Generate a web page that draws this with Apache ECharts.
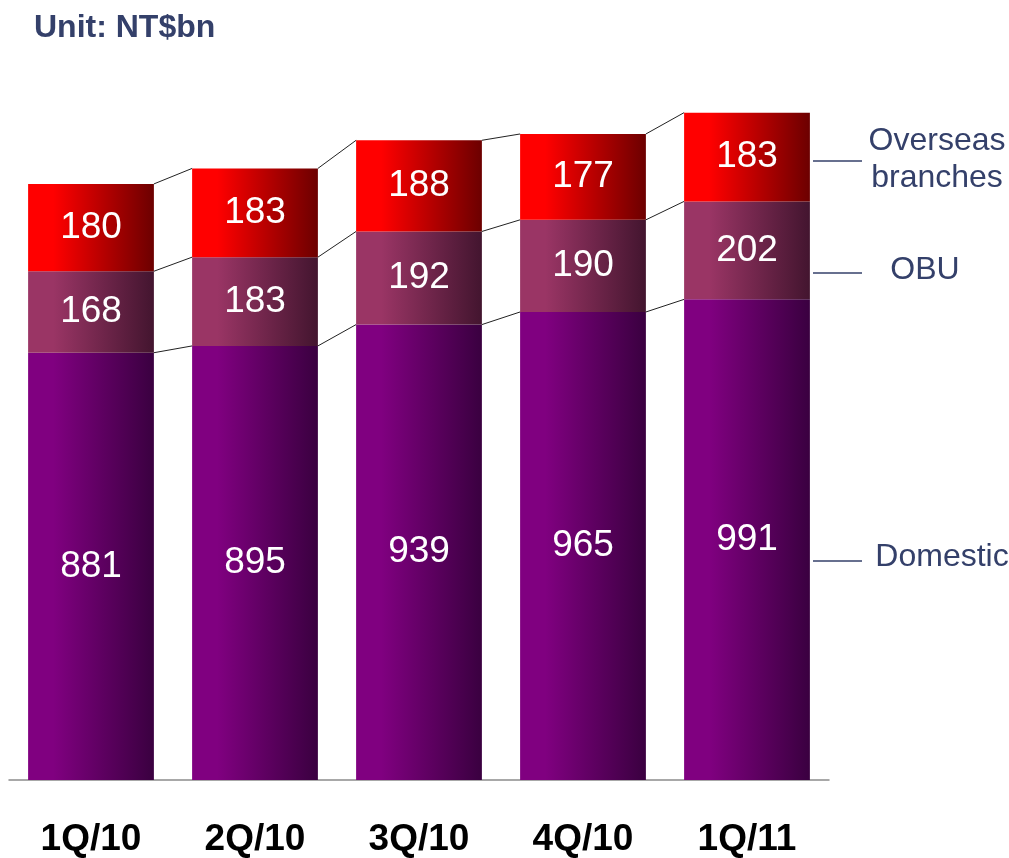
<!DOCTYPE html>
<html>
<head>
<meta charset="utf-8">
<script src="https://cdn.jsdelivr.net/npm/echarts@6/dist/echarts.min.js"></script>
<style>
html,body{margin:0;padding:0;background:#fff;}
#chart{width:1009px;height:858px;}
</style>
</head>
<body>
<div id="chart"></div>
<script>
const categories = ['1Q/10', '2Q/10', '3Q/10', '4Q/10', '1Q/11'];
const domestic = [881, 895, 939, 965, 991];
const obu = [168, 183, 192, 190, 202];
const overseas = [180, 183, 188, 177, 183];
const seriesNames = ['Domestic', 'OBU', 'Overseas branches'];

const FONT = '"Liberation Sans", Arial, Helvetica, sans-serif';
const NAVY = '#34406a';
const BAR_RATIO = 0.767;

function grad(c0, c1) {
  return new echarts.graphic.LinearGradient(0, 0, 1, 0, [
    { offset: 0, color: c0 },
    { offset: 0.2, color: c0 },
    { offset: 1, color: c1 }
  ]);
}

const stacks = [domestic, obu, overseas];
const cum = categories.map((_, i) => {
  let s = 0;
  return stacks.map(arr => (s += arr[i]));
});

const valueLabel = {
  show: true,
  position: 'inside',
  color: '#ffffff',
  fontFamily: FONT,
  fontSize: 37
};

const chart = echarts.init(document.getElementById('chart'), null, { renderer: 'canvas' });

chart.setOption({
  animation: false,
  backgroundColor: '#ffffff',
  grid: { left: 9, right: 180, top: 101, bottom: 76, containLabel: false },
  xAxis: {
    type: 'category',
    data: categories,
    axisLine: { show: true, lineStyle: { color: '#8c8c8c', width: 1.5 } },
    axisTick: { show: false },
    axisLabel: {
      color: '#000000',
      fontFamily: FONT,
      fontWeight: 'bold',
      fontSize: 37,
      margin: 41
    }
  },
  yAxis: {
    type: 'value',
    min: 0,
    max: 1400,
    show: false,
    splitLine: { show: false }
  },
  series: [
    {
      name: seriesNames[0], type: 'bar', stack: 'total', barWidth: (BAR_RATIO * 100) + '%',
      data: domestic,
      itemStyle: { color: grad('#800080', '#3a0040') },
      label: valueLabel, z: 2
    },
    {
      name: seriesNames[1], type: 'bar', stack: 'total',
      data: obu,
      itemStyle: { color: grad('#9a3565', '#43152f') },
      label: valueLabel, z: 2
    },
    {
      name: seriesNames[2], type: 'bar', stack: 'total',
      data: overseas,
      itemStyle: { color: grad('#ff0000', '#6c0000') },
      label: valueLabel, z: 2
    },
    {
      type: 'custom',
      silent: true,
      z: 3,
      data: categories.slice(0, -1).map((_, i) => [i, cum[i][2]]),
      encode: { x: 0, y: 1 },
      renderItem: function (params, api) {
        const i = api.value(0);
        const bw = api.size([1, 0])[0] * BAR_RATIO;
        const children = [];
        for (let k = 0; k < 3; k++) {
          const p0 = api.coord([i, cum[i][k]]);
          const p1 = api.coord([i + 1, cum[i + 1][k]]);
          children.push({
            type: 'line',
            shape: { x1: p0[0] + bw / 2, y1: p0[1], x2: p1[0] - bw / 2, y2: p1[1] },
            style: { stroke: '#222222', lineWidth: 1 }
          });
        }
        return { type: 'group', children: children };
      }
    }
  ],
  graphic: [
    {
      type: 'text', left: 34, top: 12,
      style: { text: 'Unit: NT$bn', fill: NAVY, font: 'bold 32px ' + FONT }
    },
    { type: 'line', shape: { x1: 813, y1: 161, x2: 862, y2: 161 }, style: { stroke: NAVY, lineWidth: 1.5 } },
    { type: 'line', shape: { x1: 813, y1: 273, x2: 862, y2: 273 }, style: { stroke: NAVY, lineWidth: 1.5 } },
    { type: 'line', shape: { x1: 813, y1: 561, x2: 862, y2: 561 }, style: { stroke: NAVY, lineWidth: 1.5 } },
    {
      type: 'text', x: 937, y: 160,
      style: { text: 'Overseas\nbranches', fill: NAVY, font: '32px ' + FONT, textAlign: 'center', textVerticalAlign: 'middle', lineHeight: 37 }
    },
    {
      type: 'text', x: 925, y: 270,
      style: { text: 'OBU', fill: NAVY, font: '32px ' + FONT, textAlign: 'center', textVerticalAlign: 'middle' }
    },
    {
      type: 'text', x: 942, y: 557,
      style: { text: 'Domestic', fill: NAVY, font: '32px ' + FONT, textAlign: 'center', textVerticalAlign: 'middle' }
    }
  ]
});
</script>
</body>
</html>
